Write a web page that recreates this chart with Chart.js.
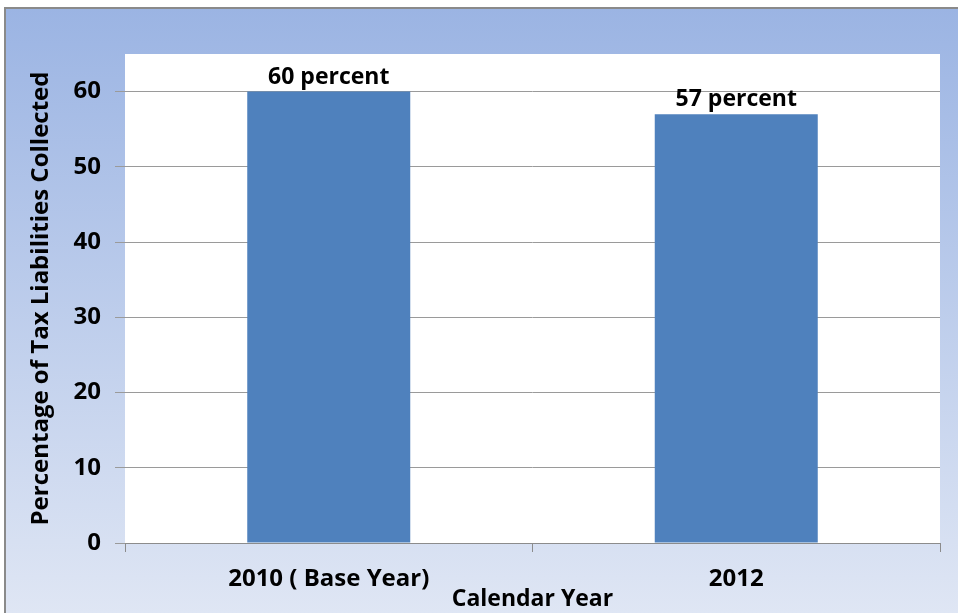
<!DOCTYPE html>
<html lang="en">
<head>
    <meta charset="UTF-8">
    <title>Tax Liabilities Collected</title>
    <style>
        body {
            margin: 0;
            background-color: #ffffff;
        }

        .wrap {
            width: 958px;
            height: 613px;
        }
    </style>
</head>
<body>
    <div class="wrap">
        <canvas id="taxChart" width="958" height="613"></canvas>
    </div>

    <script src="https://cdn.jsdelivr.net/npm/chart.js"></script>
    <script>
        const years = ['2010 ( Base Year)', '2012'];
        const collected = [60, 57];
        const valueLabels = ['60 percent', '57 percent'];

        const fontFamily = "'Open Sans', Lato, sans-serif";

        // blue gradient frame behind everything, white plot area
        const backdrop = {
            id: 'backdrop',
            beforeDraw(chart) {
                const { ctx, width, height, chartArea } = chart;
                ctx.save();
                const grad = ctx.createLinearGradient(0, 8, 0, height);
                grad.addColorStop(0, '#9bb4e3');
                grad.addColorStop(1, '#dfe6f4');
                ctx.fillStyle = grad;
                ctx.fillRect(5, 8, width - 5, height - 8);
                ctx.strokeStyle = '#8a8a8a';
                ctx.lineWidth = 2;
                ctx.beginPath();
                ctx.moveTo(5, height);
                ctx.lineTo(5, 8);
                ctx.lineTo(width, 8);
                ctx.stroke();
                ctx.fillStyle = '#ffffff';
                ctx.fillRect(chartArea.left, chartArea.top, chartArea.width, chartArea.height);
                ctx.restore();
            }
        };

        // "xx percent" text on top of each bar
        const barText = {
            id: 'barText',
            afterDatasetsDraw(chart) {
                const { ctx } = chart;
                const meta = chart.getDatasetMeta(0);
                ctx.save();
                ctx.font = "bold 23px " + fontFamily;
                ctx.fillStyle = '#000000';
                ctx.textAlign = 'center';
                ctx.textBaseline = 'bottom';
                meta.data.forEach((bar, i) => {
                    ctx.fillText(valueLabels[i], bar.x, bar.y - 3);
                });
                ctx.restore();
            }
        };

        const ctx = document.getElementById('taxChart').getContext('2d');
        new Chart(ctx, {
            type: 'bar',
            data: {
                labels: years,
                datasets: [{
                    data: collected,
                    backgroundColor: '#4f81bd',
                    borderWidth: 0,
                    categoryPercentage: 0.8,
                    barPercentage: 0.5
                }]
            },
            options: {
                responsive: false,
                animation: false,
                layout: {
                    padding: { top: 54, right: 18, left: 0, bottom: 0 }
                },
                plugins: {
                    legend: { display: false },
                    tooltip: { enabled: false }
                },
                scales: {
                    x: {
                        grid: {
                            drawOnChartArea: false,
                            drawTicks: true,
                            tickLength: 9,
                            color: '#8c8c8c'
                        },
                        border: { color: '#8c8c8c' },
                        ticks: {
                            color: '#000000',
                            padding: 13,
                            font: { family: fontFamily, size: 24, weight: 'bold' }
                        },
                        title: {
                            display: true,
                            text: 'Calendar Year',
                            color: '#000000',
                            padding: { top: 0, bottom: 0 },
                            font: { family: fontFamily, size: 23, weight: 'bold' }
                        },
                        afterFit(scale) {
                            scale.height = 70;
                        }
                    },
                    y: {
                        min: 0,
                        max: 65,
                        grid: {
                            color: (c) => c.tick && c.tick.value === 65 ? 'rgba(0,0,0,0)' : '#9a9a9a',
                            tickLength: 10
                        },
                        border: { display: false },
                        ticks: {
                            stepSize: 10,
                            color: '#000000',
                            padding: 14,
                            font: { family: fontFamily, size: 24, weight: 'bold' },
                            callback: (v) => v % 10 === 0 ? v : ''
                        },
                        title: {
                            display: true,
                            text: 'Percentage of Tax Liabilities Collected',
                            color: '#000000',
                            padding: { top: 27, bottom: 0 },
                            font: { family: fontFamily, size: 24, weight: 'bold' }
                        },
                        afterFit(scale) {
                            scale.width = 125;
                        }
                    }
                }
            },
            plugins: [backdrop, barText]
        });
    </script>
</body>
</html>
